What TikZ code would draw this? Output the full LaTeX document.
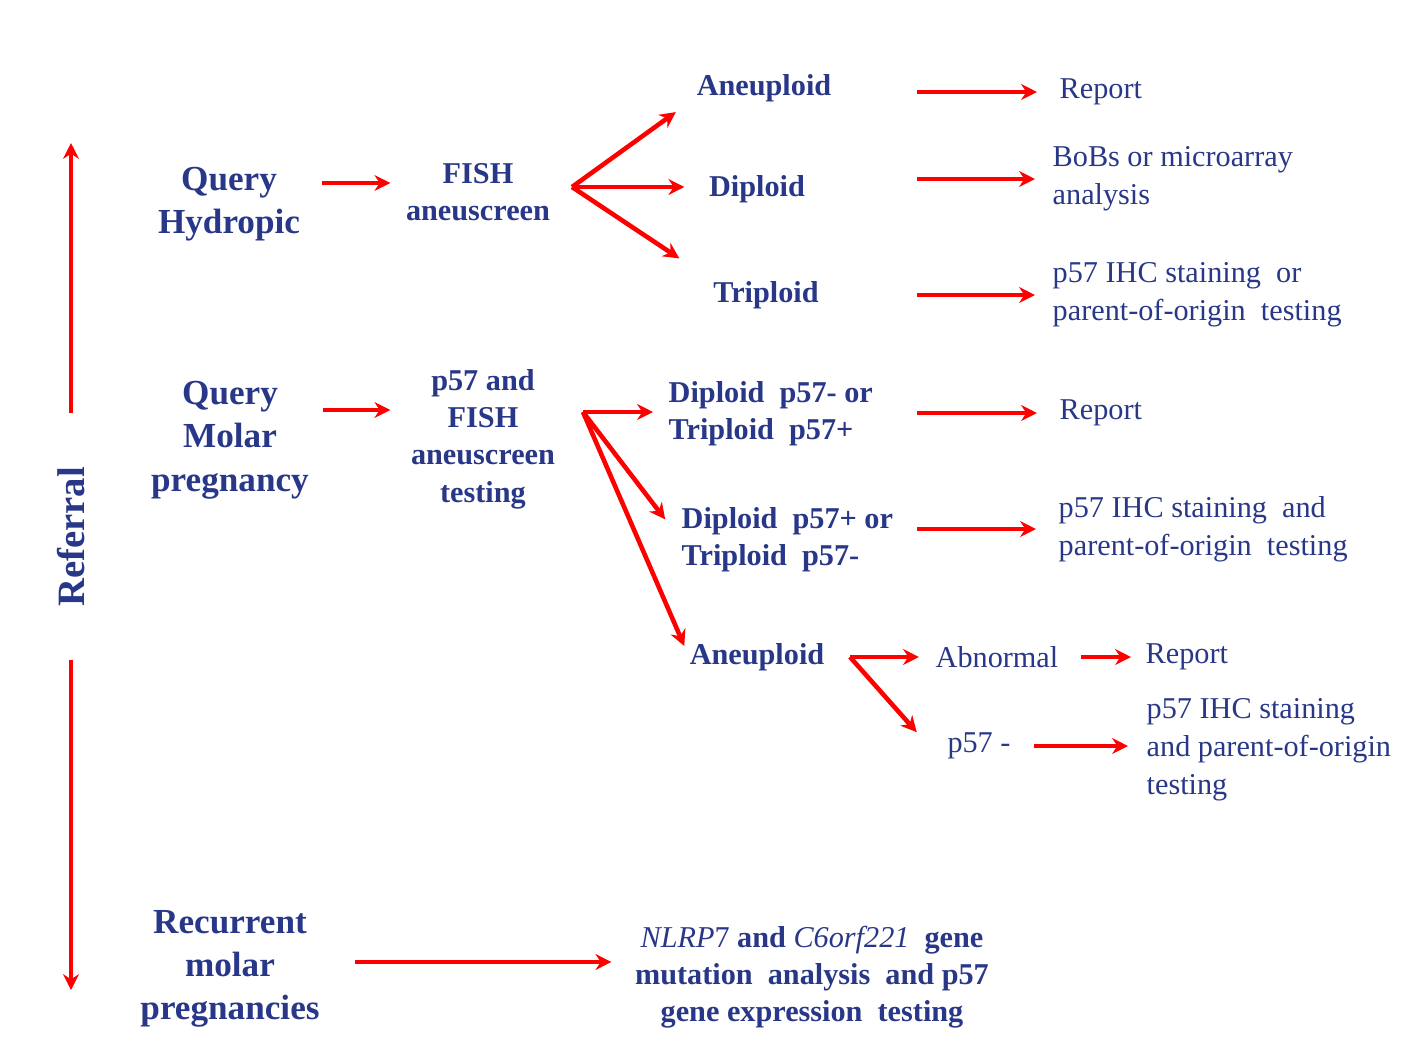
\documentclass[tikz,border=0pt]{standalone}
\usepackage{fontspec}
\setmainfont{Liberation Serif}
\usepackage{xcolor}
\usepackage{tikz}
\usetikzlibrary{arrows.meta, positioning, calc}

\definecolor{refblue}{RGB}{40,55,135}

\begin{document}
\begin{tikzpicture}[
  x=0.01cm, y=-0.01cm,
  big/.style={font=\bfseries\fontsize{10}{12.3}\selectfont, text=refblue, align=center, inner sep=0pt},
  mid/.style={font=\bfseries\fontsize{8.6}{10.6}\selectfont, text=refblue, align=center, inner sep=0pt},
  plain/.style={font=\fontsize{8.6}{10.8}\selectfont, text=refblue, align=left, inner sep=0pt},
  arr/.style={-{Stealth[length=4.5pt, width=4.5pt]}, red, line width=1.3pt}
]
\useasboundingbox (0,0) rectangle (1417,1063);

% referral axis
\node[font=\bfseries\fontsize{11}{13}\selectfont, text=refblue, rotate=90, inner sep=0pt] (ref) at (71,537) {Referral};
\coordinate (topend) at (ref.east |- 0,143);
\coordinate (botend) at (ref.west |- 0,990);
\draw[arr, shorten <=0.53cm] (ref.east) -- (topend);
\draw[arr, shorten <=0.52cm] (ref.west) -- (botend);

% query hydropic
\node[big] (qh)   at (229,204) {Query\\Hydropic};
\node[mid] (fish) at (478,192) {FISH\\aneuscreen};
\draw[arr, shorten <=0.21cm, shorten >=0.15cm] ([yshift=0.21cm]qh.east) -- ([yshift=0.21cm]qh.east -| fish.west);

\coordinate (b1) at (572,187);
\node[mid] (aneu1) at (764,88)  {Aneuploid};
\node[mid] (dip1)  at (757,189) {Diploid};
\node[mid] (tri1)  at (766,295) {Triploid};
\draw[arr, shorten >=0.25cm] (b1) -- ([yshift=0.05cm]aneu1.south west);
\draw[arr, shorten >=0.24cm] (b1) -- (b1 -| dip1.west);
\draw[arr, shorten >=0.40cm] (b1) -- (tri1.north west);

\node[plain, anchor=west] (rep1) at (1059,92)  {Report};
\node[plain, anchor=west] (bob)  at (1052,179) {BoBs or microarray\\analysis};
\node[plain, anchor=west] (ihc1) at (1052,295) {p57 IHC staining\ \ or\\parent-of-origin\ \ testing};

\coordinate (ax) at (917,0);
\draw[arr, shorten >=0.22cm] (ax |- rep1) -- (rep1.west);
\draw[arr, shorten >=0.17cm] (ax |- bob)  -- (bob.west);
\draw[arr, shorten >=0.17cm] (ax |- ihc1) -- (ihc1.west);

% query molar
\node[big] (qm)   at (230,440) {Query\\Molar\\pregnancy};
\node[mid] (p57f) at (483,439) {p57 and\\FISH\\aneuscreen\\testing};
\draw[arr, shorten <=0.13cm, shorten >=0.20cm] ([yshift=0.30cm]qm.east) -- ([yshift=0.30cm]qm.east -| p57f.west);

\coordinate (b2) at (583,412);
\node[mid, align=left, anchor=west] (dp1) at (668,414) {Diploid\ \ p57- or\\Triploid\ \ p57+};
\node[mid, align=left, anchor=west] (dp2) at (681,540) {Diploid\ \ p57+ or\\Triploid\ \ p57-};
\node[mid] (aneu2) at (757,657) {Aneuploid};
\draw[arr, shorten >=0.15cm] (b2) -- (b2 -| dp1.west);
\draw[arr, shorten >=0.26cm] (b2) -- (dp2.west);
\draw[arr, shorten >=0.12cm] (b2) -- (aneu2.west);

\node[plain, anchor=west] (rep2) at (1059,413) {Report};
\node[plain, anchor=west] (ihc2) at (1058,529) {p57 IHC staining\ \ and\\parent-of-origin\ \ testing};
\draw[arr, shorten >=0.22cm] (ax |- rep2) -- (rep2.west);
\draw[arr, shorten >=0.22cm] (ax |- ihc2) -- (ihc2.west);

% aneuploid follow-up
\coordinate (b3) at (850,657);
\node[plain] (abn)  at (997,657)  {Abnormal};
\node[plain] (p57m) at (979,746)  {p57 -};
\node[plain, anchor=west] (rep3) at (1145,657) {Report};
\node[plain, anchor=west] (ihc3) at (1146,750) {p57 IHC staining\\and parent-of-origin\\testing};
\draw[arr, shorten >=0.16cm] (b3) -- (b3 -| abn.west);
\draw[arr] (b3) -- ([xshift=-0.3cm]p57m.north west);
\draw[arr, shorten <=0.22cm, shorten >=0.14cm] (abn.east) -- (rep3.west);
\draw[arr, shorten <=0.23cm, shorten >=0.18cm] (p57m.east) -- (p57m.east -| ihc3.west);

% recurrent
\node[big] (rec)  at (230,969) {Recurrent\\molar\\pregnancies};
\node[mid] (nlrp) at (812,977) {{\mdseries\itshape NLRP}{\mdseries 7} and {\mdseries\itshape C6orf221}\ \ gene\\mutation\ \ analysis\ \ and p57\\gene expression\ \ testing};
\draw[arr, shorten <=0.35cm, shorten >=0.23cm] ([yshift=0.07cm]rec.east) -- ([yshift=0.07cm]rec.east -| nlrp.west);
\end{tikzpicture}
\end{document}
